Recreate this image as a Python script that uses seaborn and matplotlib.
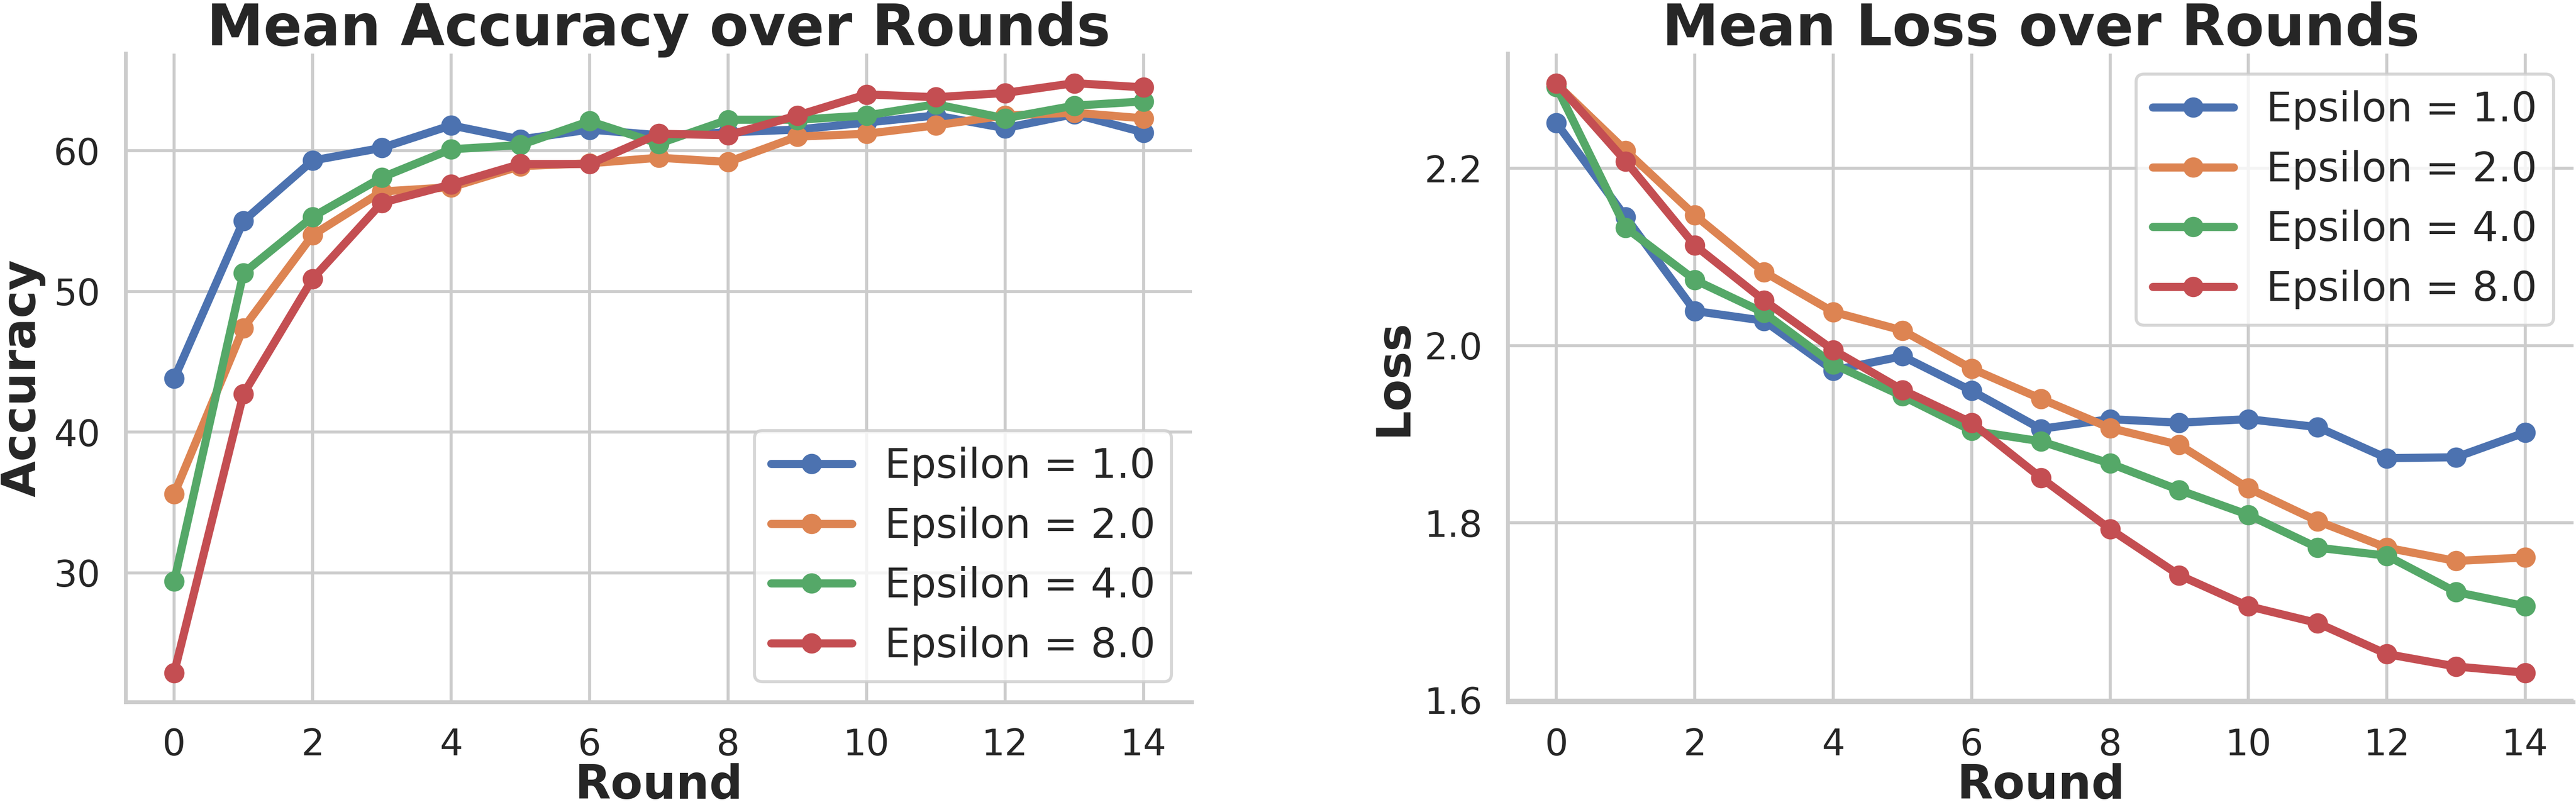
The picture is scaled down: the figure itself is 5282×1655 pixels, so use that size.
import numpy as np
import pandas as pd
import seaborn as sns
from matplotlib import pyplot as plt
from matplotlib.ticker import MultipleLocator

rounds = list(range(15))
epsilons = [1.0, 2.0, 4.0, 8.0]

acc_eps1 = [43.8, 55.0, 59.3, 60.2, 61.8, 60.8, 61.5, 61.1, 61.3, 61.5, 62.0, 62.5, 61.6, 62.6, 61.3]
acc_eps2 = [35.6, 47.4, 54.0, 57.1, 57.4, 58.9, 59.1, 59.5, 59.2, 61.0, 61.2, 61.8, 62.5, 62.7, 62.3]
acc_eps4 = [29.4, 51.3, 55.3, 58.1, 60.1, 60.4, 62.1, 60.5, 62.2, 62.2, 62.5, 63.3, 62.3, 63.2, 63.5]
acc_eps8 = [22.9, 42.7, 50.9, 56.3, 57.6, 59.05, 59.05, 61.2, 61.1, 62.5, 64.0, 63.8, 64.1, 64.8, 64.5]

loss_eps1 = [2.251, 2.145, 2.039, 2.028, 1.972, 1.988, 1.949, 1.906, 1.917, 1.913, 1.917, 1.908, 1.873, 1.874, 1.902]
loss_eps2 = [2.295, 2.220, 2.147, 2.083, 2.038, 2.017, 1.974, 1.940, 1.907, 1.888, 1.839, 1.802, 1.772, 1.757, 1.761]
loss_eps4 = [2.292, 2.133, 2.074, 2.037, 1.979, 1.943, 1.904, 1.892, 1.867, 1.837, 1.809, 1.772, 1.763, 1.722, 1.706]
loss_eps8 = [2.296, 2.208, 2.113, 2.051, 1.995, 1.950, 1.913, 1.851, 1.793, 1.741, 1.706, 1.687, 1.652, 1.638, 1.631]

acc_all = [acc_eps1, acc_eps2, acc_eps4, acc_eps8]
loss_all = [loss_eps1, loss_eps2, loss_eps4, loss_eps8]

rows = []
for eps, acc, loss in zip(epsilons, acc_all, loss_all):
    for r, a, l in zip(rounds, acc, loss):
        rows.append({'Round': r, 'Accuracy': a, 'Loss': l, 'eps': f'Epsilon = {eps}'})
df = pd.DataFrame(rows)

sns.set_theme(style='whitegrid', context='talk')
plt.rcParams['font.family'] = ['DejaVu Sans']

fig = plt.figure(figsize=(5282 / 300, 1655 / 300), dpi=300)
ax1 = fig.add_axes([0.0488, 0.1299, 0.4139, 0.8036])
ax2 = fig.add_axes([0.5854, 0.1299, 0.4137, 0.8036])

line_kws = dict(marker='o', markersize=10, markeredgewidth=0, linewidth=4)

sns.lineplot(data=df, x='Round', y='Accuracy', hue='eps', ax=ax1, **line_kws)
sns.lineplot(data=df, x='Round', y='Loss', hue='eps', ax=ax2, **line_kws)

for ax, title, ylab, loc in [(ax1, 'Mean Accuracy over Rounds', 'Accuracy', 'lower right'),
                             (ax2, 'Mean Loss over Rounds', 'Loss', 'upper right')]:
    ax.set_title(title, fontsize=28, fontweight='bold', pad=4)
    ax.set_xlabel('Round', fontsize=23, fontweight='bold', labelpad=0)
    ax.set_ylabel(ylab, fontsize=23, fontweight='bold', labelpad=4)
    ax.tick_params(labelsize=18)
    ax.set_xticks(range(0, 15, 2))
    sns.move_legend(ax, loc, title=None, fontsize=20)
    sns.despine(ax=ax)

ax2.yaxis.set_major_locator(MultipleLocator(0.2))

fig.savefig('out.png', dpi=300)
